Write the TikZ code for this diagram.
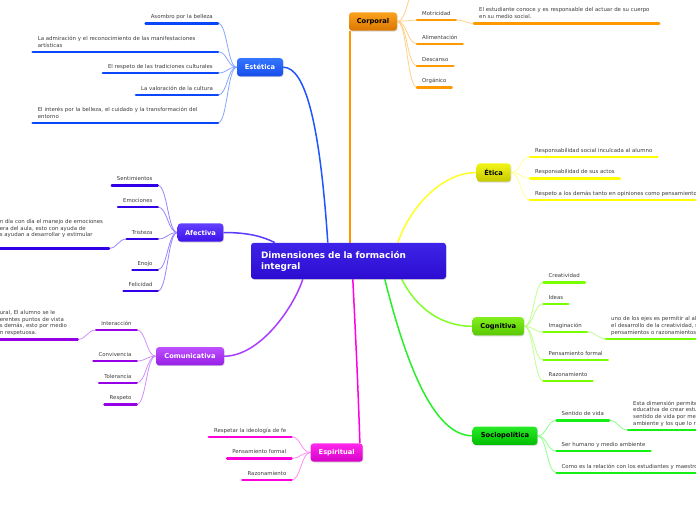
\documentclass[tikz,border=0pt]{standalone}
\usepackage{fontspec}
\setmainfont{DejaVu Sans}
\usetikzlibrary{calc,shadows,backgrounds}
\definecolor{txtgray}{RGB}{60,60,60}
\definecolor{cenTop}{RGB}{62,36,232}
\definecolor{cenBot}{RGB}{44,12,208}
\definecolor{estTop}{RGB}{52,118,255}
\definecolor{estBot}{RGB}{22,76,236}
\definecolor{estLine}{RGB}{30,85,255}
\definecolor{estSub}{RGB}{135,165,255}
\definecolor{estBar}{RGB}{10,70,250}
\definecolor{corTop}{RGB}{250,162,30}
\definecolor{corBot}{RGB}{218,118,0}
\definecolor{corLine}{RGB}{255,150,0}
\definecolor{corSub}{RGB}{255,208,135}
\definecolor{corBar}{RGB}{255,153,0}
\definecolor{etiTop}{RGB}{242,246,20}
\definecolor{etiBot}{RGB}{198,200,0}
\definecolor{etiLine}{RGB}{255,255,40}
\definecolor{etiSub}{RGB}{255,255,150}
\definecolor{etiBar}{RGB}{255,255,0}
\definecolor{afeTop}{RGB}{100,62,255}
\definecolor{afeBot}{RGB}{60,20,235}
\definecolor{afeLine}{RGB}{90,60,255}
\definecolor{afeSub}{RGB}{150,132,255}
\definecolor{afeBar}{RGB}{50,0,230}
\definecolor{comTop}{RGB}{190,80,255}
\definecolor{comBot}{RGB}{150,30,230}
\definecolor{comLine}{RGB}{170,60,255}
\definecolor{comSub}{RGB}{208,145,255}
\definecolor{comBar}{RGB}{150,0,230}
\definecolor{espTop}{RGB}{255,40,235}
\definecolor{espBot}{RGB}{215,0,200}
\definecolor{espLine}{RGB}{255,0,230}
\definecolor{espSub}{RGB}{255,140,240}
\definecolor{espBar}{RGB}{255,0,220}
\definecolor{cogTop}{RGB}{130,240,30}
\definecolor{cogBot}{RGB}{88,200,0}
\definecolor{cogLine}{RGB}{130,255,40}
\definecolor{cogSub}{RGB}{190,255,140}
\definecolor{cogBar}{RGB}{120,255,0}
\definecolor{socTop}{RGB}{40,235,40}
\definecolor{socBot}{RGB}{0,190,0}
\definecolor{socLine}{RGB}{40,240,40}
\definecolor{socSub}{RGB}{140,255,140}
\definecolor{socBar}{RGB}{20,240,20}
\tikzset{
  hc/.style={to path={.. controls ($(\tikztostart)!0.5!(\tikztostart -| \tikztotarget)$) and ($(\tikztotarget)!0.5!(\tikztotarget -| \tikztostart)$) .. (\tikztotarget)}},
  sub/.style={draw=#1, line width=0.8pt, hc},
  mainc/.style={draw=#1, line width=1.5pt},
  txt/.style={font=\fontsize{5.4}{6.8}\selectfont, text=txtgray, inner xsep=5pt, inner ysep=3pt, text depth=1.4pt},
  two/.style={text depth=8.2pt, align=left},
  three/.style={text depth=15pt, align=left},
  four/.style={text depth=21.8pt, align=left},
  barline/.style={draw=#1, line width=2.4pt, line cap=round},
  itemL/.style={txt, anchor=south east, append after command={(\tikzlastnode.south west) edge[barline=#1] (\tikzlastnode.south east)}},
  itemR/.style={txt, anchor=south west, append after command={(\tikzlastnode.south west) edge[barline=#1] (\tikzlastnode.south east)}},
  topic/.style n args={3}{top color=#1, bottom color=#2, text=#3, draw=none, rounded corners=3pt, minimum height=18.2pt, inner sep=0pt, font=\fontsize{6.7}{8}\selectfont\bfseries, drop shadow={shadow xshift=0.6pt, shadow yshift=-0.9pt, opacity=0.3}},
  central/.style={top color=cenTop, bottom color=cenBot, text=white, rounded corners=3pt, minimum height=36.3pt, text width=175pt, inner xsep=10pt, inner ysep=0pt, align=left, font=\fontsize{8.9}{11}\selectfont\bfseries, drop shadow={shadow xshift=0.6pt, shadow yshift=-0.9pt, opacity=0.3}}
}
\begin{document}
\begin{tikzpicture}[x=1pt,y=-1pt]
\useasboundingbox (0,0) rectangle (696,520);
\clip (0,0) rectangle (696,520);

% central
\node[central] (c) at (348.5,260.9) {Dimensiones de la formación\\integral};

% main topics
\node[topic={estTop}{estBot}{white}, minimum width=46pt] (est) at (260,67.2) {Estética};
\node[topic={corTop}{corBot}{black}, minimum width=48pt] (cor) at (373,21.5) {Corporal};
\node[topic={etiTop}{etiBot}{black}, minimum width=34pt] (eti) at (493.7,172.5) {Ética};
\node[topic={afeTop}{afeBot}{white}, minimum width=45.6pt] (afe) at (200.5,232.5) {Afectiva};
\node[topic={comTop}{comBot}{white}, minimum width=68pt] (com) at (190,356.2) {Comunicativa};
\node[topic={espTop}{espBot}{white}, minimum width=52pt] (esp) at (336.7,452.5) {Espiritual};
\node[topic={cogTop}{cogBot}{black}, minimum width=51.3pt] (cog) at (498.3,326.3) {Cognitiva};
\node[topic={socTop}{socBot}{black}, minimum width=64.6pt] (soc) at (505,435.8) {Sociopolítica};

% Estética items
\node[itemL=estBar] (e1) at (218,23.3) {Asombro por la belleza};
\node[itemL=estBar, two, text width=175pt] (e2) at (218,51.7) {\mbox{La admiración y el reconocimiento de las manifestaciones}\\\mbox{artísticas}};
\node[itemL=estBar] (e3) at (218,73) {El respeto de las tradiciones culturales};
\node[itemL=estBar] (e4) at (218,95) {La valoración de la cultura};
\node[itemL=estBar, two, text width=175pt] (e5) at (218,122.7) {\mbox{El interés por la belleza, el cuidado y la transformación del}\\\mbox{entorno}};

% Corporal items
\coordinate (c0) at (417,-10);
\node[itemR=corBar] (c1) at (417,20) {Motricidad};
\node[itemR=corBar] (c2) at (417,43.7) {Alimentación};
\node[itemR=corBar] (c3) at (417,65.7) {Descanso};
\node[itemR=corBar] (c4) at (417,87.3) {Orgánico};
\node[itemR=corBar, two, text width=174.7pt] (c1a) at (474,23.3) {\mbox{El estudiante conoce y es responsable del actuar de su cuerpo}\\\mbox{en su medio social.}};

% Ética items
\node[itemR=etiBar] (t1) at (530,156.7) {Responsabilidad social inculcada al alumno};
\node[itemR=etiBar] (t2) at (530,178.3) {Responsabilidad de sus actos};
\node[itemR=etiBar] (t3) at (530,199.7) {Respeto a los demás tanto en opiniones como pensamientos};

% Afectiva items
\node[itemL=afeBar] (a1) at (157.7,185.3) {Sentimientos};
\node[itemL=afeBar] (a2) at (157.7,207) {Emociones};
\node[itemL=afeBar] (a3) at (157.7,239) {Tristeza};
\node[itemL=afeBar] (a4) at (157.7,269.7) {Enojo};
\node[itemL=afeBar] (a5) at (157.7,291) {Felicidad};
\node[itemL=afeBar, four, text width=104pt] (a3a) at (109,248.3) {\mbox{n día con día el manejo de emociones}\\\mbox{era del aula, esto con ayuda de}\\\mbox{s ayudan a desarrollar y estimular}\\\mbox{}};

% Comunicativa items
\node[itemL=comBar] (m1) at (136.7,330) {Interacción};
\node[itemL=comBar] (m2) at (136.7,361) {Convivencia};
\node[itemL=comBar] (m3) at (136.7,382.7) {Tolerancia};
\node[itemL=comBar] (m4) at (136.7,404.3) {Respeto};
\node[itemL=comBar, four, text width=72.7pt] (m1a) at (77.7,339.3) {\mbox{ural, El alumno se le}\\\mbox{erentes puntos de vista}\\\mbox{s demás, esto por medio}\\\mbox{n respetuosa.}};

% Espiritual items
\node[itemL=espBar] (s1) at (291.5,436.7) {Respetar la ideología de fe};
\node[itemL=espBar] (s2) at (291.5,458.3) {Pensamiento formal};
\node[itemL=espBar] (s3) at (291.5,480) {Razonamiento};

% Cognitiva items
\node[itemR=cogBar] (g1) at (543.5,282.3) {Creatividad};
\node[itemR=cogBar] (g2) at (543.5,303.7) {Ideas};
\node[itemR=cogBar] (g3) at (543.5,332) {Imaginación};
\node[itemR=cogBar] (g4) at (543.5,360) {Pensamiento formal};
\node[itemR=cogBar] (g5) at (543.5,381) {Razonamiento};
\node[itemR=cogBar, three, text width=160pt] (g3a) at (606,338.7) {\mbox{uno de los ejes es permitir al alumno}\\\mbox{el desarrollo de la creatividad, sus}\\\mbox{pensamientos o razonamientos}};

% Sociopolítica items
\node[itemR=socBar] (p1) at (556.5,420.3) {Sentido de vida};
\node[itemR=socBar] (p2) at (556.5,451) {Ser humano y medio ambiente};
\node[itemR=socBar] (p3) at (556.5,472.7) {Como es la relación con los estudiantes y maestros};
\node[itemR=socBar, four, text width=160pt] (p1a) at (628,430) {\mbox{Esta dimensión permite a la institución}\\\mbox{educativa de crear estudiantes con}\\\mbox{sentido de vida por medio del medio}\\\mbox{ambiente y los que lo rodean.}};

\begin{scope}[on background layer]
% main connectors
\draw[mainc=estLine] (est.east) .. controls +(22,0) and +(-8,-120) .. ([xshift=77pt]c.north west);
\draw[mainc=corLine, line width=1.7pt] ([xshift=1pt]cor.south west) -- ([xshift=99pt]c.north west);
\draw[mainc=etiLine] ([xshift=147pt]c.north west) .. controls +(12,-35) and +(-35,0) .. (eti.west);
\draw[mainc=afeLine] (afe.east) .. controls +(25,0) and +(-12,-6) .. ([xshift=24pt]c.north west);
\draw[mainc=comLine] ([xshift=52pt]c.south west) .. controls +(-10,30) and +(35,0) .. (com.east);
\draw[mainc=espLine] ([xshift=102pt]c.south west) .. controls +(3,60) and +(-2,-60) .. ([xshift=-3pt]esp.north east);
\draw[mainc=cogLine] ([xshift=151pt]c.south west) .. controls +(15,30) and +(-30,0) .. (cog.west);
\draw[mainc=socLine] ([xshift=134pt]c.south west) .. controls +(20,80) and +(-40,0) .. (soc.west);

% Estética subs
\foreach \n in {e1,e2,e3,e4,e5} \draw[sub=estSub] (est.west) to (\n.south east);
% Corporal subs
\draw[sub=corSub] (cor.east) to (c0);
\foreach \n in {c1,c2,c3,c4} \draw[sub=corSub] (cor.east) to (\n.south west);
\draw[sub=corSub] (c1.south east) to (c1a.south west);
% Ética subs
\foreach \n in {t1,t2,t3} \draw[sub=etiSub] (eti.east) to (\n.south west);
% Afectiva subs
\foreach \n in {a1,a2,a3,a4,a5} \draw[sub=afeSub] (afe.west) to (\n.south east);
\draw[sub=afeSub] (a3.south west) to (a3a.south east);
% Comunicativa subs
\foreach \n in {m1,m2,m3,m4} \draw[sub=comSub] (com.west) to (\n.south east);
\draw[sub=comSub] (m1.south west) to (m1a.south east);
% Espiritual subs
\foreach \n in {s1,s2,s3} \draw[sub=espSub] (esp.west) to (\n.south east);
% Cognitiva subs
\foreach \n in {g1,g2,g3,g4,g5} \draw[sub=cogSub] (cog.east) to (\n.south west);
\draw[sub=cogSub] (g3.south east) to (g3a.south west);
% Sociopolítica subs
\foreach \n in {p1,p2,p3} \draw[sub=socSub] (soc.east) to (\n.south west);
\draw[sub=socSub] (p1.south east) to (p1a.south west);
\end{scope}
\end{tikzpicture}
\end{document}
